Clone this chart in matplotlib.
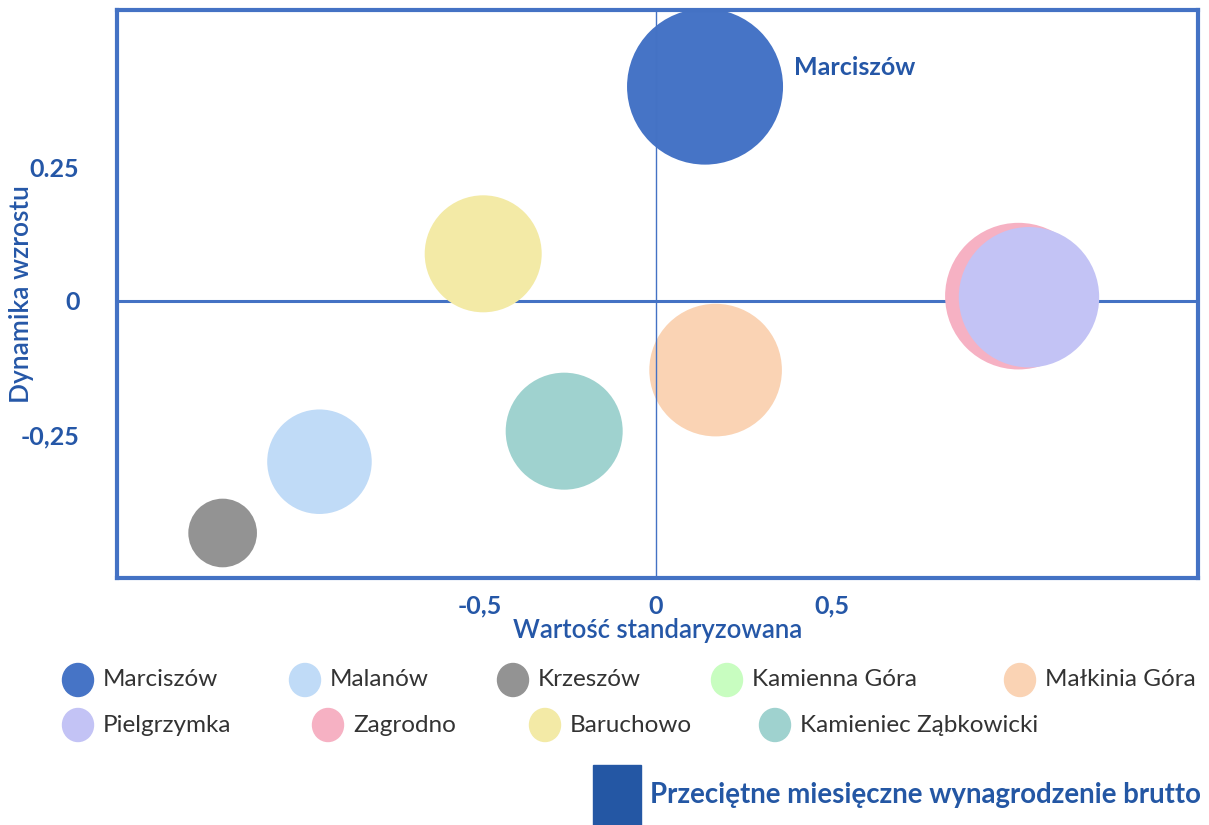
import numpy as np
import matplotlib
matplotlib.use('Agg')
import matplotlib.pyplot as plt
from matplotlib.patches import Ellipse, Rectangle

plt.rcParams['font.family'] = ['Lato', 'DejaVu Sans']

# data
miejscowosci = ['Marciszów', 'Malanów', 'Krzeszów', 'Kamienna Góra', 'Małkinia Góra',
                'Pielgrzymka', 'Zagrodno', 'Baruchowo', 'Kamieniec Ząbkowicki']
wartosc_std = [0.14, -0.955, -1.23, np.nan, 0.17, 1.06, 1.03, -0.49, -0.26]
dynamika = [0.40, -0.30, -0.433, np.nan, -0.129, 0.007, 0.009, 0.088, -0.243]
wielkosc = [1.00, 0.67, 0.44, np.nan, 0.85, 0.90, 0.94, 0.75, 0.75]   # relative bubble size
kolory = ['#4674C6', '#C0DBF7', '#939393', '#C8FDC0', '#FAD3B4',
          '#C3C3F5', '#F6B1C3', '#F3EAA6', '#9FD2CF']

x_ticks = [-0.5, 0, 0.5]
x_tick_labels = ['-0,5', '0', '0,5']
y_ticks = [0.25, 0, -0.25]
y_tick_labels = ['0.25', '0', '-0,25']

# drawing order: pink under lavender
kolejnosc = [6, 5, 0, 1, 2, 4, 7, 8]

frame_col = '#4472C4'
text_col = '#2557A7'

fig = plt.figure(figsize=(12.09, 8.25), dpi=100)
ax = fig.add_axes([117 / 1209, 1 - 578 / 825, (1198 - 117) / 1209, (578 - 10) / 825])
ax.set_xlim(-1.53, 1.54)
ax.set_ylim(-0.517, 0.543)

max_r_pt = 78 * 0.72  # biggest bubble radius in points
ax.axhline(0, color=frame_col, lw=2.2, zorder=1)
for i in kolejnosc:
    d = 2 * max_r_pt * wielkosc[i]
    ax.scatter(wartosc_std[i], dynamika[i], s=d ** 2, color=kolory[i],
               edgecolors='none', zorder=2)
ax.axvline(0, color=frame_col, lw=1.0, zorder=3)

ax.annotate('Marciszów', (wartosc_std[0], dynamika[0]), xytext=(64, 14),
            textcoords='offset points', color=text_col, fontsize=18,
            fontweight='bold', va='center', ha='left')

for sp in ax.spines.values():
    sp.set_color(frame_col)
    sp.set_linewidth(3.0)

ax.set_xticks(x_ticks, x_tick_labels)
ax.set_yticks(y_ticks, y_tick_labels)
ax.tick_params(length=0, labelsize=18, labelcolor=text_col)
for lab in ax.get_xticklabels() + ax.get_yticklabels():
    lab.set_fontweight('bold')
ax.tick_params(axis='x', pad=12)
ax.tick_params(axis='y', pad=27)
ax.set_xlabel('Wartość standaryzowana', fontsize=18.5, color=text_col,
              fontweight='semibold', labelpad=0)
ax.set_ylabel('Dynamika wzrostu', fontsize=19, color=text_col, fontweight='semibold')
ax.yaxis.label.set_va('center')
ax.yaxis.set_label_coords(-(117 - 22) / 1081, 0.5)

# legend in flow layout
W, H = 1209, 825
legend_pos = [(78, 680), (305, 680), (513, 680), (727, 680), (1020, 680),
              (78, 725), (328, 725), (545, 725), (775, 725)]
for i, (px, py) in enumerate(legend_pos):
    fig.patches.append(Ellipse((px / W, 1 - py / H), 31 / W, 33 / H,
                               transform=fig.transFigure, color=kolory[i]))
    fig.text((px + 25) / W, 1 - py / H, miejscowosci[i], fontsize=17.5,
             color='#333333', va='center', ha='left')

fig.patches.append(Rectangle((593 / W, 0), 48 / W, 60 / H,
                             transform=fig.transFigure, color='#2457A4'))
fig.text(650 / W, 1 - 795 / H, 'Przeciętne miesięczne wynagrodzenie brutto',
         fontsize=19.9, fontweight='bold', color='#2457A4', va='center', ha='left')

fig.savefig('out.png', dpi=100)
